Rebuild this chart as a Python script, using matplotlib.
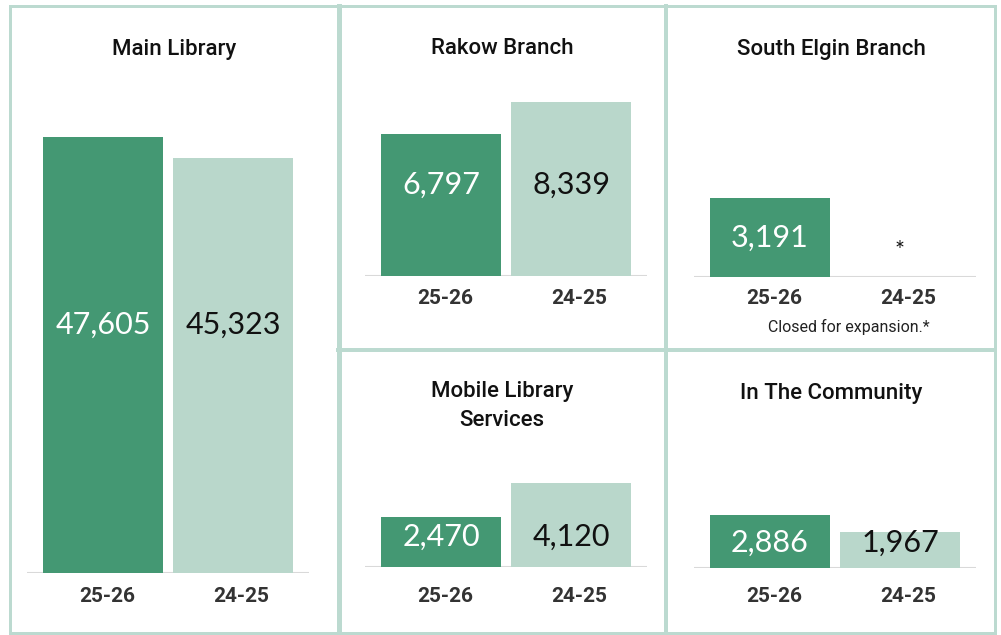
import numpy as np
import matplotlib
matplotlib.use("Agg")
import matplotlib.pyplot as plt
from matplotlib.patches import Rectangle
from matplotlib.lines import Line2D

# ---------------- data ---------------- #
panels = ["Main Library", "Rakow Branch", "South Elgin Branch",
          "Mobile Library\nServices", "In The Community"]
years = ["25-26", "24-25"]
vals_2526 = [47605, 6797, 3191, 2470, 2886]
vals_2425 = [45323, 8339, None, 4120, 1967]   # South Elgin closed
note_south_elgin = "Closed for expansion.*"

# ---------------- style ---------------- #
W, H = 1001, 635
dark = "#449873"
light = "#b9d7cb"
border = "#bcdad0"
base_col = "#d9d9d9"

fig = plt.figure(figsize=(W / 100, H / 100), dpi=100)
fig.patch.set_facecolor("white")

def fx(x):
    return x / W

def fy(y):
    return 1 - y / H

# axes in pixel coords: (left, right, baseline, top, px height of reference bar, which bar)
layout = [
    (27, 309, 573, 100, 436, 0),
    (365, 647, 276, 80, 174, 1),
    (694, 976, 277, 80, 79, 0),
    (365, 647, 567, 450, 84, 1),
    (694, 976, 568, 450, 53, 0),
]
title_pos = [(174, 49), (502, 49), (831, 49), (502, 406), (831, 393)]
label_y = [325, 185, 238, 537, 543]   # pixel y of value labels
tick_y = [596, 299, 299, 596, 596]    # pixel y of year labels

bar_w = 120 / 130

for i, name in enumerate(panels):
    l, r, b, t, ref_px, ref_idx = layout[i]
    ax = fig.add_axes([fx(l), fy(b), (r - l) / W, (b - t) / H])
    v = [vals_2526[i], vals_2425[i]]
    ref_val = v[ref_idx]
    ymax = ref_val * (b - t) / ref_px
    ax.set_ylim(0, ymax)
    ax.set_xlim(-bar_w / 2 - 16 / 130, 1 + bar_w / 2 + 16 / 130)
    ly = ymax * (b - label_y[i]) / (b - t)
    tyl = -(tick_y[i] - b) / (b - t)

    cols = [dark, light]
    tcols = ["white", "#111111"]
    for k in range(2):
        if v[k] is None:
            # asterisk glyph sits high, nudge it down a bit
            ax.text(k, ly - ymax * 12 / (b - t), "*", ha="center", va="center",
                    fontsize=17, family=["Lato", "DejaVu Sans"], color="#111111")
        else:
            ax.bar(k, v[k], width=bar_w, color=cols[k], zorder=2)
            ax.text(k, ly, f"{v[k]:,}", ha="center", va="center", fontsize=22,
                    family=["Lato", "DejaVu Sans"], fontweight="normal",
                    color=tcols[k], zorder=3)
        ax.text(k + 0.03 + 0.03 * k, tyl, years[k], ha="center", va="center",
                transform=ax.get_xaxis_transform(), family=["Roboto", "DejaVu Sans"],
                fontweight="bold", fontsize=15, color="#333333")

    ax.axhline(0, color=base_col, lw=1.5, zorder=1)
    ax.set_xticks([])
    ax.set_yticks([])
    for s in ax.spines.values():
        s.set_visible(False)
    ax.patch.set_alpha(0)

    tx, ty = title_pos[i]
    fig.text(fx(tx), fy(ty), name, ha="center", va="center", fontsize=16,
             family=["Roboto", "DejaVu Sans"], fontweight="medium",
             color="#111111", linespacing=1.45)

fig.text(fx(849), fy(327), note_south_elgin, ha="center", va="center",
         fontsize=11.5, family=["Roboto", "DejaVu Sans"], color="#222222")

# panel borders
lw = 3 * 72 / 100
fig.add_artist(Rectangle((fx(10), fy(633)), fx(995) - fx(10), fy(6) - fy(633),
                         transform=fig.transFigure, fill=False, ec=border, lw=lw))
fig.add_artist(Line2D([fx(338.5), fx(338.5)], [fy(6), fy(633)],
                      transform=fig.transFigure, color=border, lw=5 * 72 / 100))
fig.add_artist(Line2D([fx(666), fx(666)], [fy(6), fy(633)],
                      transform=fig.transFigure, color=border, lw=4 * 72 / 100))
fig.add_artist(Line2D([fx(338), fx(995)], [fy(350), fy(350)],
                      transform=fig.transFigure, color=border, lw=4 * 72 / 100))

fig.savefig("out.png", dpi=100, facecolor="white")
